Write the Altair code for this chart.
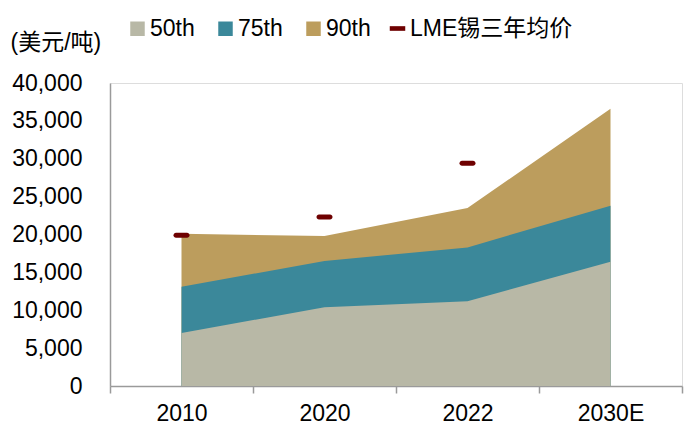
import altair as alt
import pandas as pd

years = ["2010", "2020", "2022", "2030E"]
p50 = [7000, 10400, 11200, 16400]
p75 = [13100, 16500, 18300, 23800]
p90 = [20100, 19800, 23500, 36600]
lme_years = ["2010", "2020", "2022"]
lme = [19900, 22300, 29400]

series_names = ["50th", "75th", "90th"]
series_colors = ["#B8B8A6", "#3B889A", "#BC9D5D"]
lme_name = "LME锡三年均价"
lme_color = "#6E0000"

rows = []
for name, vals in zip(series_names, [p50, p75, p90]):
    for y, v in zip(years, vals):
        rows.append({"year": y, "series": name, "value": v})
df = pd.DataFrame(rows)
df_lme = pd.DataFrame({"year": lme_years, "series": [lme_name] * len(lme), "value": lme})

FONT = "Liberation Sans, Arial, Noto Sans CJK SC"
FS = 23

xscale = alt.Scale(type="band", domain=years, paddingInner=0, paddingOuter=0)
yscale = alt.Scale(domain=[0, 40000], nice=False)

xaxis = alt.Axis(title=None, labelAngle=0, tickBand="extent", tickSize=7,
                 labelPadding=9, domainColor="#9A9A9A", tickColor="#9A9A9A",
                 domainWidth=1.5, tickWidth=1.5, grid=False)
yaxis = alt.Axis(title="(美元/吨)", titleAngle=0, titleX=-100, titleY=-41,
                 titleAlign="left", titleBaseline="middle", titleFontWeight="normal",
                 values=list(range(0, 40001, 5000)),
                 labelExpr="format(datum.value, ',.0f')", ticks=False,
                 labelOverlap=False, labelPadding=28, domainColor="#9A9A9A",
                 domainWidth=1.5, grid=False)

xenc = alt.X("year:N", scale=xscale, bandPosition=0.5, axis=xaxis)
yenc = alt.Y("value:Q", scale=yscale, axis=yaxis)

fill_scale = alt.Scale(domain=series_names, range=series_colors)
fill_legend = alt.Legend(title=None, orient="none", legendX=16, legendY=-66,
                         direction="horizontal", symbolType="square",
                         symbolSize=210, symbolStrokeWidth=0, labelOffset=1,
                         columnPadding=19, padding=0, labelFontWeight="normal")

layers = []
for i, name in enumerate(["90th", "75th", "50th"]):
    layers.append(
        alt.Chart(df).transform_filter(alt.datum.series == name).mark_area(opacity=1).encode(
            x=xenc,
            y=yenc,
            fill=alt.Fill("series:N", scale=fill_scale,
                          legend=fill_legend if i == 0 else None),
        )
    )

tick = alt.Chart(df_lme).mark_tick(orient="horizontal", thickness=5, size=16, filled=True,
                                   opacity=1, cornerRadius=2.5).encode(
    x=alt.X("year:N", scale=xscale, axis=xaxis),
    y=alt.Y("value:Q", scale=yscale, axis=yaxis),
    color=alt.Color("series:N", scale=alt.Scale(domain=[lme_name], range=[lme_color]),
                    legend=alt.Legend(title=None, orient="none", legendX=276, legendY=-66,
                                      direction="horizontal",
                                      symbolType="M-1,-0.3H1V0.3H-1Z", symbolSize=240,
                                      symbolStrokeWidth=0, symbolOpacity=1, labelOffset=1,
                                      padding=0, labelFontWeight="normal")),
)

chart = alt.layer(*layers, tick).properties(
    width=572, height=303,
    autosize=alt.AutoSizeParams(type="none"),
    padding={"left": 102, "top": 75, "right": 10, "bottom": 39},
).configure_view(stroke=None).configure(font=FONT).configure_axis(
    labelFont=FONT, titleFont=FONT, labelFontSize=FS, titleFontSize=FS, labelColor="#000000",
    titleColor="#000000"
).configure_legend(labelFont=FONT, labelFontSize=FS, labelColor="#000000", labelLimit=400,
                   labelFontWeight="normal")

chart.save("out.html", embed_options={"renderer": "svg", "actions": False})
